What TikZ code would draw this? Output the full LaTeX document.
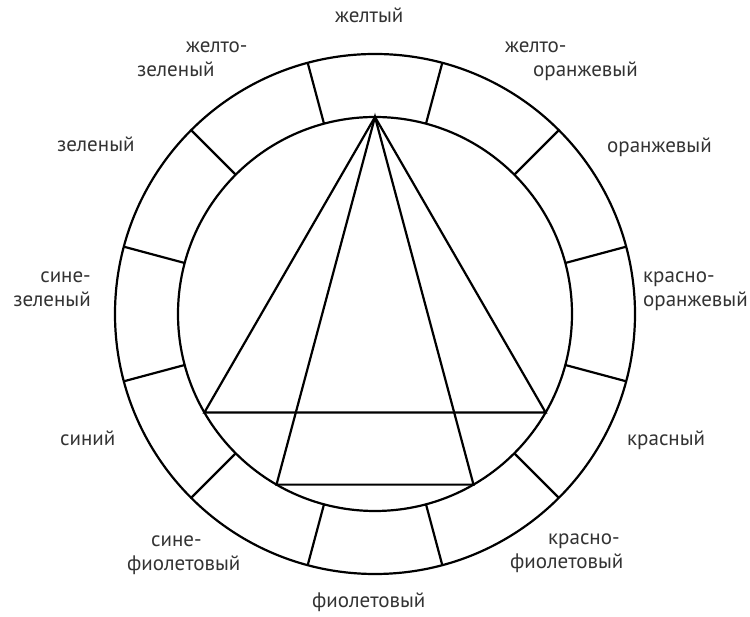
\documentclass[tikz,border=0pt]{standalone}
\usepackage{fontspec}
\setmainfont{PT Sans}
\usepackage{tikz}
\usetikzlibrary{calc}

\begin{document}
\begin{tikzpicture}[
  x=1pt, y=1pt,
  ring/.style={line width=2.2pt, black},
  hue/.style={font=\fontsize{21}{24}\selectfont, text=black!80, inner sep=0pt, align=left, anchor=base west}
]
\fill[white] (-375,-303) rectangle (375,314);
\useasboundingbox (-375,-303) rectangle (375,314);
\coordinate (c) at (0,0);
% ring of twelve fields
\draw[ring] (c) circle[radius=260pt];
\draw[ring] (c) circle[radius=197pt];
\foreach \a in {15,45,...,345} {\draw[ring] (\a:197pt) -- (\a:260pt);}
% triangles
\coordinate (apex) at (90:197pt);
\coordinate (bl) at (210:197pt);
\coordinate (br) at (330:197pt);
\coordinate (nl) at (240:197pt);
\coordinate (nr) at (300:197pt);
\draw[ring] (apex) -- (bl) -- (br) -- cycle;
\draw[ring] (apex) -- (nl) -- (nr) -- cycle;
% colour names
\node[hue] (yellow) at (-40,291) {желтый};
\node[hue] (yelgreen) at (-238,237) {\hspace*{49pt}желто-\\зеленый};
\node[hue] (yelorange) at (130,237) {желто-\\\hspace*{28pt}оранжевый};
\node[hue] (green) at (-318,162) {зеленый};
\node[hue] (orange) at (232,161) {оранжевый};
\node[hue, align=right, anchor=base east] (bluegreen) at (-284,7) {сине-\\зеленый};
\node[hue] (redorange) at (268,7) {красно-\\оранжевый};
\node[hue] (blue) at (-315,-132) {синий};
\node[hue] (red) at (252,-132) {красный};
\node[hue] (blueviolet) at (-248,-257) {\hspace*{24pt}сине-\\фиолетовый};
\node[hue] (redviolet) at (135,-255) {\hspace*{38pt}красно-\\фиолетовый};
\node[hue] (violet) at (-63,-294) {фиолетовый};
\end{tikzpicture}
\end{document}
